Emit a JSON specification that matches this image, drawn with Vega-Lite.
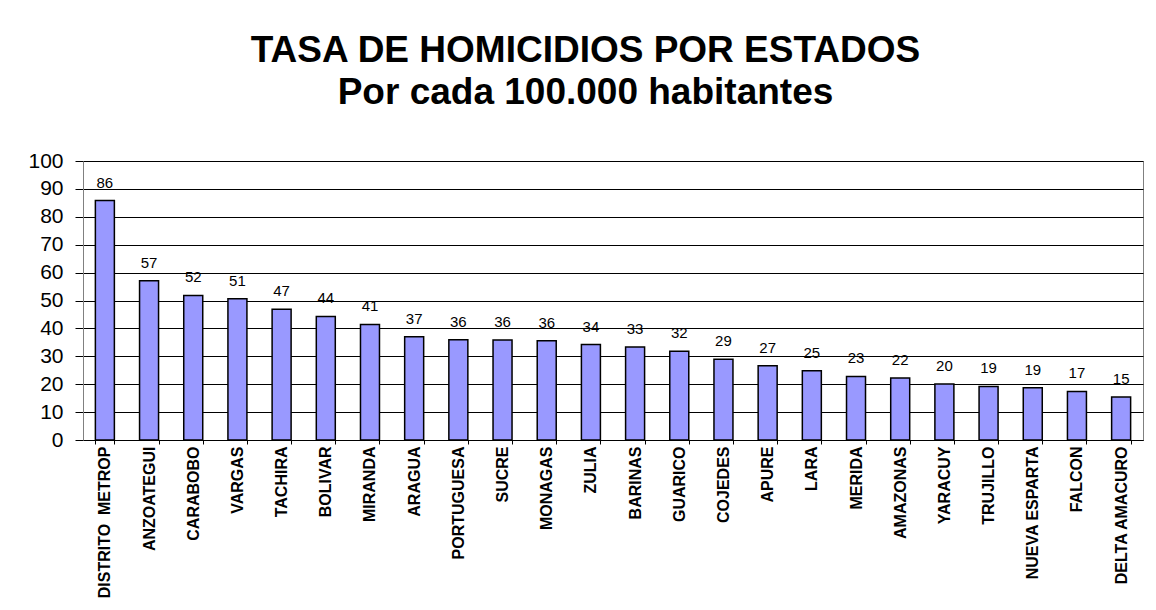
{
  "$schema": "https://vega.github.io/schema/vega-lite/v6.json",
  "autosize": {"type": "none"},
  "padding": {"left": 83, "top": 161, "right": 13, "bottom": 170},
  "width": 1060,
  "height": 279,
  "background": "white",
  "title": {
    "text": ["TASA DE HOMICIDIOS POR ESTADOS", "Por cada 100.000 habitantes"],
    "font": "Liberation Sans",
    "fontSize": 37,
    "fontWeight": "bold",
    "lineHeight": 42,
    "color": "black",
    "anchor": "middle",
    "frame": "bounds",
    "offset": 38
  },
  "data": {
    "values": [
      {"estado": "DISTRITO\u00a0 METROP", "tasa": 85.8},
      {"estado": "ANZOATEGUI", "tasa": 57.1},
      {"estado": "CARABOBO", "tasa": 51.8},
      {"estado": "VARGAS", "tasa": 50.6},
      {"estado": "TACHIRA", "tasa": 46.9},
      {"estado": "BOLIVAR", "tasa": 44.3},
      {"estado": "MIRANDA", "tasa": 41.4},
      {"estado": "ARAGUA", "tasa": 37.0},
      {"estado": "PORTUGUESA", "tasa": 35.9},
      {"estado": "SUCRE", "tasa": 35.8},
      {"estado": "MONAGAS", "tasa": 35.6},
      {"estado": "ZULIA", "tasa": 34.2},
      {"estado": "BARINAS", "tasa": 33.3},
      {"estado": "GUARICO", "tasa": 31.8},
      {"estado": "COJEDES", "tasa": 28.9},
      {"estado": "APURE", "tasa": 26.6},
      {"estado": "LARA", "tasa": 24.8},
      {"estado": "MERIDA", "tasa": 22.8},
      {"estado": "AMAZONAS", "tasa": 22.2},
      {"estado": "YARACUY", "tasa": 20.1},
      {"estado": "TRUJILLO", "tasa": 19.2},
      {"estado": "NUEVA ESPARTA", "tasa": 18.7},
      {"estado": "FALCON", "tasa": 17.4},
      {"estado": "DELTA AMACURO", "tasa": 15.4}
    ]
  },
  "encoding": {
    "x": {
      "field": "estado",
      "type": "nominal",
      "sort": null,
      "scale": {"paddingInner": 0.57, "paddingOuter": 0.28},
      "axis": {
        "title": null,
        "labelAngle": -90,
        "labelAlign": "right",
        "labelBaseline": "middle",
        "labelFont": "Liberation Sans",
        "labelFontSize": 16,
        "labelFontWeight": "bold",
        "labelColor": "black",
        "labelPadding": 2,
        "labelLimit": 200,
        "tickBand": "extent",
        "tickSize": 4,
        "tickColor": "black",
        "domainColor": "black",
        "grid": false
      }
    },
    "y": {
      "field": "tasa",
      "type": "quantitative",
      "scale": {"domain": [0, 100], "nice": false},
      "axis": {
        "title": null,
        "values": [0, 10, 20, 30, 40, 50, 60, 70, 80, 90, 100],
        "labelFont": "Liberation Sans",
        "labelFontSize": 21,
        "labelColor": "black",
        "labelPadding": 12,
        "tickSize": 8,
        "tickColor": "black",
        "domainColor": "#808080",
        "grid": true,
        "gridColor": "black",
        "gridWidth": 1,
        "gridOpacity": 1
      }
    }
  },
  "layer": [
    {
      "mark": {"type": "bar", "fill": "#9999FF", "stroke": "black", "strokeWidth": 1.5}
    },
    {
      "mark": {"type": "text", "font": "Liberation Sans", "fontSize": 15, "color": "black", "baseline": "bottom", "dy": -10},
      "encoding": {
        "text": {"field": "tasa", "type": "quantitative", "format": ".0f"}
      }
    }
  ],
  "config": {
    "view": {"stroke": "#808080", "strokeWidth": 1}
  }
}
